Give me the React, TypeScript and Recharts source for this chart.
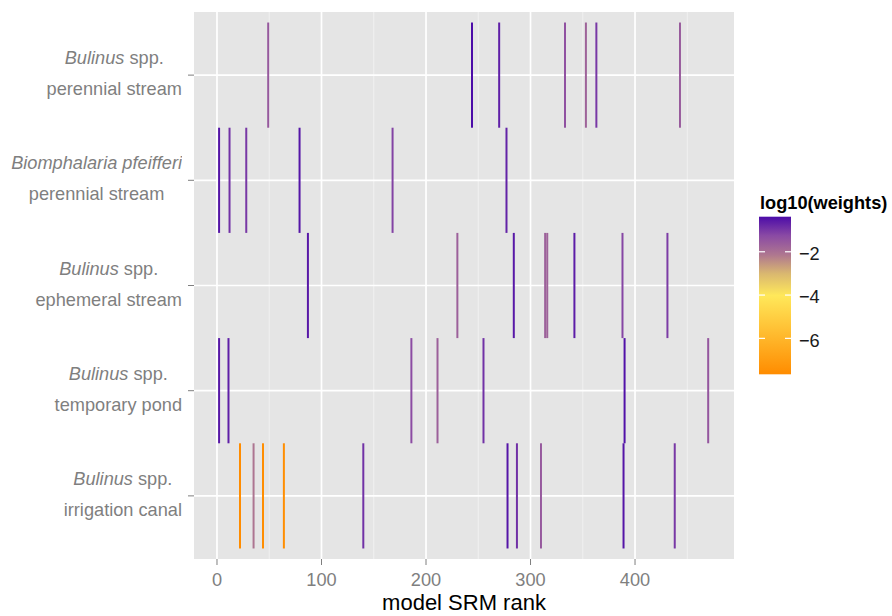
import React from 'react';
import { ComposedChart, Line, XAxis, YAxis, CartesianGrid, ReferenceLine } from 'recharts';

// ---------- data ----------
const rowSpecies = ['Bulinus', 'Biomphalaria pfeifferi', 'Bulinus', 'Bulinus', 'Bulinus'];
const rowSpeciesSuffix = [' spp.', '', ' spp.', ' spp.', ' spp.'];
const rowHabitats = ['perennial stream', 'perennial stream', 'ephemeral stream', 'temporary pond', 'irrigation canal'];
const rowPositions = [1, 2, 3, 4, 5];

const ranksBulinusPerennial = [49, 244, 270, 333, 353, 363, 443];
const weightsBulinusPerennial = [-1.55, -0.38, -0.65, -1.4, -1.75, -1.0, -1.6];

const ranksBiomphalariaPerennial = [2, 12, 28, 79, 168, 277];
const weightsBiomphalariaPerennial = [-0.5, -0.9, -1.0, -0.5, -1.15, -0.7];

const ranksBulinusEphemeral = [87, 230, 284, 314, 316, 342, 388, 431];
const weightsBulinusEphemeral = [-0.55, -1.7, -0.55, -1.7, -1.75, -0.6, -1.2, -1.05];

const ranksBulinusTemporary = [2, 11, 186, 211, 255, 390, 470];
const weightsBulinusTemporary = [-0.55, -0.65, -1.3, -1.7, -0.9, -0.45, -1.5];

const ranksBulinusIrrigation = [22, 35, 44, 64, 140, 278, 287, 310, 389, 438];
const weightsBulinusIrrigation = [-7.66, -2.1, -7.6, -7.6, -0.9, -0.5, -0.9, -1.55, -0.5, -1.0];

const xTicks = [0, 100, 200, 300, 400];
const xMinorTicks = [50, 150, 250, 350, 450];
const legendTicks = [-2, -4, -6];

const rowRanks = [
  ranksBulinusPerennial,
  ranksBiomphalariaPerennial,
  ranksBulinusEphemeral,
  ranksBulinusTemporary,
  ranksBulinusIrrigation,
];
const rowWeights = [
  weightsBulinusPerennial,
  weightsBiomphalariaPerennial,
  weightsBulinusEphemeral,
  weightsBulinusTemporary,
  weightsBulinusIrrigation,
];

// ---------- colour scale ----------
const colorStops: [number, string][] = [
  [0, '#FF8C00'],
  [0.25, '#FFBA2E'],
  [0.5, '#FFE85A'],
  [0.64, '#D9B770'],
  [0.76, '#AE7690'],
  [0.88, '#8A4AA4'],
  [1, '#4C0CA8'],
];
const allWeights = rowWeights.flat();
const wMin = Math.min(...allWeights);
const wMax = Math.max(...allWeights);

const hex = (c: string) => [1, 3, 5].map((i) => parseInt(c.slice(i, i + 2), 16));
const colorFor = (w: number) => {
  const t = (w - wMin) / (wMax - wMin);
  for (let i = 1; i < colorStops.length; i++) {
    const [t1, c1] = colorStops[i];
    const [t0, c0] = colorStops[i - 1];
    if (t <= t1) {
      const f = (t - t0) / (t1 - t0);
      const a = hex(c0);
      const b = hex(c1);
      const m = a.map((v, k) => Math.round(v + (b[k] - v) * f));
      return `rgb(${m[0]},${m[1]},${m[2]})`;
    }
  }
  return colorStops[colorStops.length - 1][1];
};

// ---------- layout constants ----------
const W = 892;
const H = 616;
const FONT = '"Liberation Sans", Arial, Helvetica, sans-serif';
const AXIS_GREY = '#7F7F7F';
const TXT = 18.2;

const XTick = (props: any) => {
  const { x, y, payload } = props;
  return (
    <text x={x} y={y + 19} textAnchor="middle" fill={AXIS_GREY} fontSize={TXT} fontFamily={FONT}>
      {payload.value}
    </text>
  );
};

const YTick = (props: any) => {
  const { x, y, payload } = props;
  const idx = rowPositions.indexOf(payload.value);
  if (idx < 0) return null;
  return (
    <foreignObject x={0} y={y - 32} width={x - 4} height={66}>
      <div
        style={{
          display: 'flex',
          justifyContent: 'flex-end',
          fontFamily: FONT,
          fontSize: `${TXT}px`,
          lineHeight: '31px',
          color: AXIS_GREY,
        }}
      >
        <div style={{ textAlign: 'center', whiteSpace: 'nowrap' }}>
          <div>
            <span style={{ fontStyle: 'italic' }}>{rowSpecies[idx]}</span>
            {rowSpeciesSuffix[idx]}
          </div>
          <div>{rowHabitats[idx]}</div>
        </div>
      </div>
    </foreignObject>
  );
};

// legend geometry
const barX = 759;
const barTop = 216.7;
const barW = 32;
const barH = 157.6;
const legendY = (v: number) => barTop + ((wMax - v) / (wMax - wMin)) * barH;

export default function App() {
  const lines: React.ReactNode[] = [];
  rowRanks.forEach((ranks, r) => {
    ranks.forEach((rank, j) => {
      const row = rowPositions[r];
      lines.push(
        <Line
          key={`l-${r}-${j}`}
          data={[
            { x: rank, y: row - 0.5 },
            { x: rank, y: row + 0.5 },
          ]}
          dataKey="y"
          type="linear"
          stroke={colorFor(rowWeights[r][j])}
          strokeWidth={2}
          dot={false}
          activeDot={false}
          isAnimationActive={false}
        />
      );
    });
  });

  return (
    <div style={{ position: 'absolute', left: 0, top: 0, width: W, height: H, background: '#fff' }}>
      <ComposedChart
        width={W}
        height={H}
        margin={{ top: 12, right: 158, bottom: 0, left: 0 }}
      >
        <CartesianGrid fill="#E5E5E5" stroke="none" horizontal={false} vertical={false} />
        <XAxis
          type="number"
          dataKey="x"
          domain={[-22, 494.7]}
          allowDataOverflow
          ticks={xTicks}
          interval={0}
          height={57}
          axisLine={false}
          tickLine={{ stroke: AXIS_GREY, strokeWidth: 1 }}
          tickSize={6}
          tick={<XTick />}
        />
        <YAxis
          type="number"
          domain={[0.4, 5.6]}
          allowDataOverflow
          reversed
          ticks={rowPositions}
          interval={0}
          width={194}
          axisLine={false}
          tickLine={{ stroke: AXIS_GREY, strokeWidth: 1 }}
          tickSize={6}
          tick={<YTick />}
        />
        {xMinorTicks.map((v) => (
          <ReferenceLine key={`mx-${v}`} x={v} stroke="#F2F2F2" strokeWidth={0.9} ifOverflow="hidden" />
        ))}
        {xTicks.map((v) => (
          <ReferenceLine key={`Mx-${v}`} x={v} stroke="#FFFFFF" strokeWidth={1.7} />
        ))}
        {rowPositions.map((v) => (
          <ReferenceLine key={`My-${v}`} y={v} stroke="#FFFFFF" strokeWidth={1.7} />
        ))}
        {lines}
      </ComposedChart>

      <svg
        width={W}
        height={H}
        style={{ position: 'absolute', left: 0, top: 0, pointerEvents: 'none' }}
      >
        <defs>
          <linearGradient id="cbar" x1="0" y1="1" x2="0" y2="0">
            {colorStops.map(([t, c]) => (
              <stop key={t} offset={t} stopColor={c} />
            ))}
          </linearGradient>
        </defs>
        <text x={464} y={609.5} textAnchor="middle" fontSize={22} fontFamily={FONT} fill="#000">
          model SRM rank
        </text>
        <text x={760} y={208.5} fontSize={TXT} fontWeight="bold" fontFamily={FONT} fill="#000">
          log10(weights)
        </text>
        <rect x={barX} y={barTop} width={barW} height={barH} fill="url(#cbar)" />
        {legendTicks.map((v) => (
          <g key={v}>
            <line x1={barX} x2={barX + 6} y1={legendY(v)} y2={legendY(v)} stroke="#fff" strokeWidth={1.2} />
            <line x1={barX + barW - 6} x2={barX + barW} y1={legendY(v)} y2={legendY(v)} stroke="#fff" strokeWidth={1.2} />
            <text x={799} y={legendY(v) + 8.3} fontSize={TXT} fontFamily={FONT} fill="#1A1A1A">
              {`\u2212${Math.abs(v)}`}
            </text>
          </g>
        ))}
      </svg>
    </div>
  );
}
